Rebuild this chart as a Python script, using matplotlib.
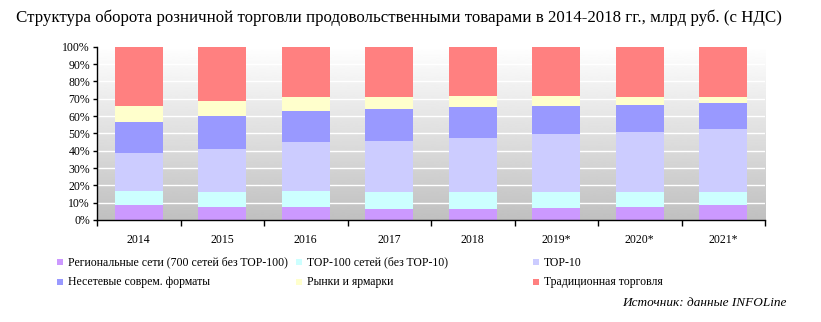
import numpy as np
import matplotlib
matplotlib.use("Agg")
import matplotlib.pyplot as plt
from matplotlib.patches import Rectangle
from matplotlib.ticker import PercentFormatter

plt.rcParams['font.family'] = ['Liberation Serif', 'DejaVu Serif']

years = ['2014', '2015', '2016', '2017', '2018', '2019*', '2020*', '2021*']
labels = ['Региональные сети (700 сетей без TOP-100)', 'TOP-100 сетей (без TOP-10)', 'TOP-10',
          'Несетевые соврем. форматы', 'Рынки и ярмарки', 'Традиционная торговля']

# доли, %
regional = [8.7, 7.5, 7.5, 6.4, 6.4, 6.9, 7.5, 8.7]
top100 = [8.1, 8.7, 9.3, 9.8, 9.8, 9.3, 8.7, 7.5]
top10 = [21.9, 24.8, 28.3, 29.5, 31.2, 33.5, 34.7, 36.4]
nonchain = [17.9, 19.1, 17.9, 18.5, 17.9, 16.2, 15.6, 15.0]
markets = [9.3, 8.7, 8.1, 6.9, 6.4, 5.8, 4.6, 3.5]
traditional = [34.1, 31.2, 28.9, 28.9, 28.3, 28.3, 28.9, 28.9]

colors = ['#CC99FF', '#CCFFFF', '#CCCCFF', '#9999FF', '#FFFFCC', '#FF8080']
series = [regional, top100, top10, nonchain, markets, traditional]

fig = plt.figure(figsize=(8.21, 3.22), dpi=100)
ax = fig.add_axes([97/821, 102/322, 668/821, 173.3/322])

x = np.arange(len(years))

# фон с градиентом
grad = np.linspace(1.0, 0.753, 256).reshape(-1, 1)
ax.imshow(grad, cmap='gray', vmin=0, vmax=1, aspect='auto',
          extent=[-0.5, len(years) - 0.5, 0, 100], origin='upper', zorder=0)
for v in range(10, 100, 10):
    ax.axhline(v, color='white', lw=1.0, zorder=1)

bottom = np.zeros(len(years))
for vals, c, lab in zip(series, colors, labels):
    vals = np.array(vals)
    ax.bar(x, vals, 0.575, bottom=bottom, color=c, edgecolor='none', zorder=2, label=lab)
    bottom += vals

ax.set_xlim(-0.5, len(years) - 0.5)
ax.set_ylim(0, 100)
ax.set_yticks(range(0, 101, 10))
ax.yaxis.set_major_formatter(PercentFormatter(decimals=0))
ax.set_xticks(np.arange(-0.5, len(years), 1))
ax.set_xticklabels([])
ax.set_xticks(x, minor=True)
ax.set_xticklabels(years, minor=True)
ax.tick_params(axis='x', which='major', length=4, width=1, direction='out')
ax.tick_params(axis='x', which='minor', length=0, pad=10, labelsize=8.5)
ax.tick_params(axis='y', length=3, width=1, labelsize=8.5, pad=2)
for s in ['top', 'right']:
    ax.spines[s].set_visible(False)
for s in ['left', 'bottom']:
    ax.spines[s].set_linewidth(1.0)

fig.text(399, 322 - 18, 'Структура оборота розничной торговли продовольственными товарами в 2014-2018 гг., млрд руб. (с НДС)',
         transform=None, ha='center', va='center', fontsize=12.2)

# легенда
cols = [57, 296, 533]
rows = [262, 282]
for i, (lab, c) in enumerate(zip(labels, colors)):
    px = cols[i % 3]
    py = 322 - rows[i // 3]
    fig.patches.append(Rectangle((px, py - 3), 6, 6, transform=None, facecolor=c, edgecolor='none'))
    fig.text(px + 11, py - 3.5, lab, transform=None, ha='left', va='baseline', fontsize=8.5)

fig.text(787, 322 - 303, 'Источник: данные INFOLine', transform=None, ha='right', va='center',
         fontsize=9.5, style='italic')

fig.savefig('out.png', dpi=100)
